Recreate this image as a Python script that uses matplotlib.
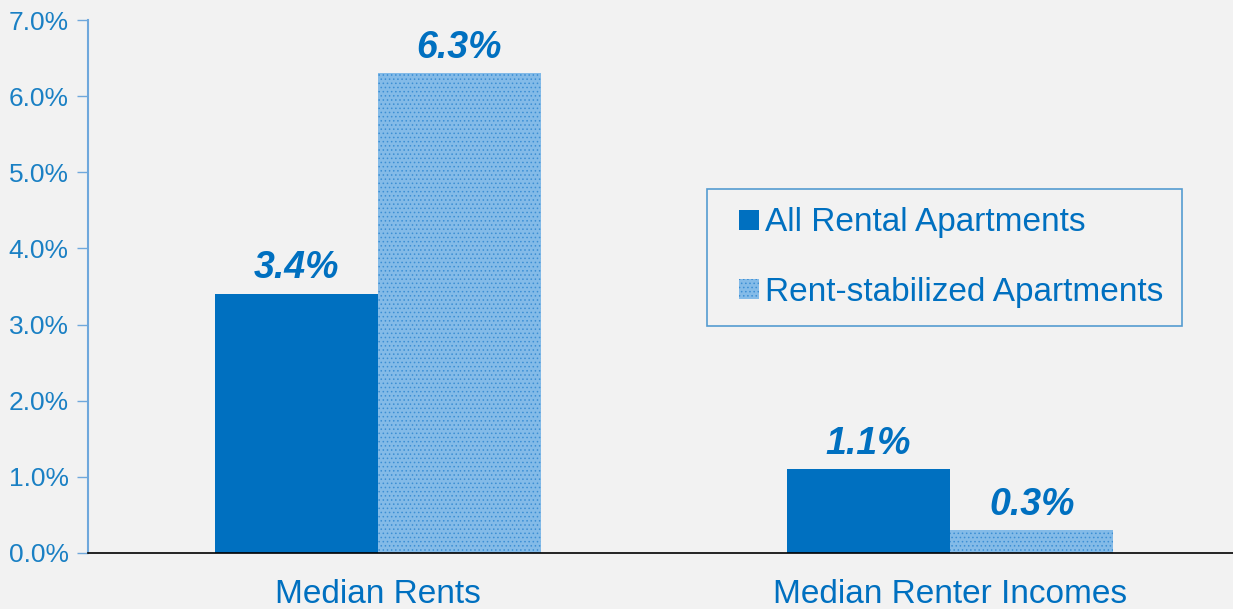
import matplotlib
matplotlib.use("Agg")
import matplotlib.pyplot as plt
from matplotlib.patches import Rectangle
from matplotlib.legend_handler import HandlerPatch
import numpy as np

plt.rcParams["font.family"] = ["Liberation Sans", "DejaVu Sans"]
plt.rcParams["hatch.linewidth"] = 0.6

# Данные графика
categories = ["Median Rents", "Median Renter Incomes"]
all_rental = [3.4, 1.1]
rent_stabilized = [6.3, 0.3]
series_names = ["All Rental Apartments", "Rent-stabilized Apartments"]
y_ticks = [0, 1, 2, 3, 4, 5, 6, 7]

BLUE = "#0070C0"
LIGHT = "#84bbe8"
BG = "#f2f2f2"


def square_right(legend, orig_handle, xdescent, ydescent, width, height, fontsize):
    # квадратный маркер, прижатый к тексту
    return Rectangle((-xdescent + width - height, -ydescent), height, height)


fig = plt.figure(figsize=(12.33, 6.09), dpi=100, facecolor=BG)
ax = fig.add_axes([88 / 1233, 1 - 553 / 609, 1145 / 1233, 533 / 609])
ax.set_facecolor(BG)

x = np.arange(len(categories))
w = 0.285
b1 = ax.bar(x - w / 2, all_rental, w, color=BLUE, label=series_names[0])
b2 = ax.bar(x + w / 2, rent_stabilized, w, facecolor=LIGHT, edgecolor="#3d8fd4",
            hatch="....", linewidth=0, label=series_names[1])

for bars, vals in [(b1, all_rental), (b2, rent_stabilized)]:
    for rect, v in zip(bars, vals):
        ax.text(rect.get_x() + rect.get_width() / 2, v + 0.1, f"{v:.1f}%",
                ha="center", va="bottom", fontsize=27, fontweight="bold",
                fontstyle="italic", color=BLUE)

ax.set_xlim(-0.506, 1.494)
ax.set_ylim(0, 7)
ax.set_yticks(y_ticks)
ax.set_yticklabels([f"{t:.1f}%" for t in y_ticks])
ax.set_xticks(x)
ax.set_xticklabels(categories)

for s in ["top", "right"]:
    ax.spines[s].set_visible(False)
ax.spines["left"].set_color("#6fa8dc")
ax.spines["left"].set_linewidth(1.5)
ax.spines["bottom"].set_color("black")
ax.spines["bottom"].set_linewidth(1.2)

ax.tick_params(axis="y", direction="out", length=8, color="#6fa8dc", width=1,
               labelsize=19, labelcolor="#1a80c4", pad=6)
ax.tick_params(axis="x", length=0, labelsize=24, labelcolor=BLUE, pad=19)

sq = HandlerPatch(patch_func=square_right)
leg = ax.legend([b1[0], b2[0]], series_names,
                loc="upper left", bbox_to_anchor=((707 - 88) / 1145, 1 - (189 - 20) / 533),
                frameon=True, fancybox=False, fontsize=24, labelcolor=BLUE,
                handlelength=1.0, handleheight=0.55, handletextpad=0.2,
                borderpad=0.55, labelspacing=1.15, borderaxespad=0,
                handler_map={Rectangle: sq})
leg.get_frame().set_edgecolor("#2e86c8")
leg.get_frame().set_facecolor(BG)
leg.get_frame().set_linewidth(1.2)

fig.savefig("out.png", dpi=100, facecolor=BG)
